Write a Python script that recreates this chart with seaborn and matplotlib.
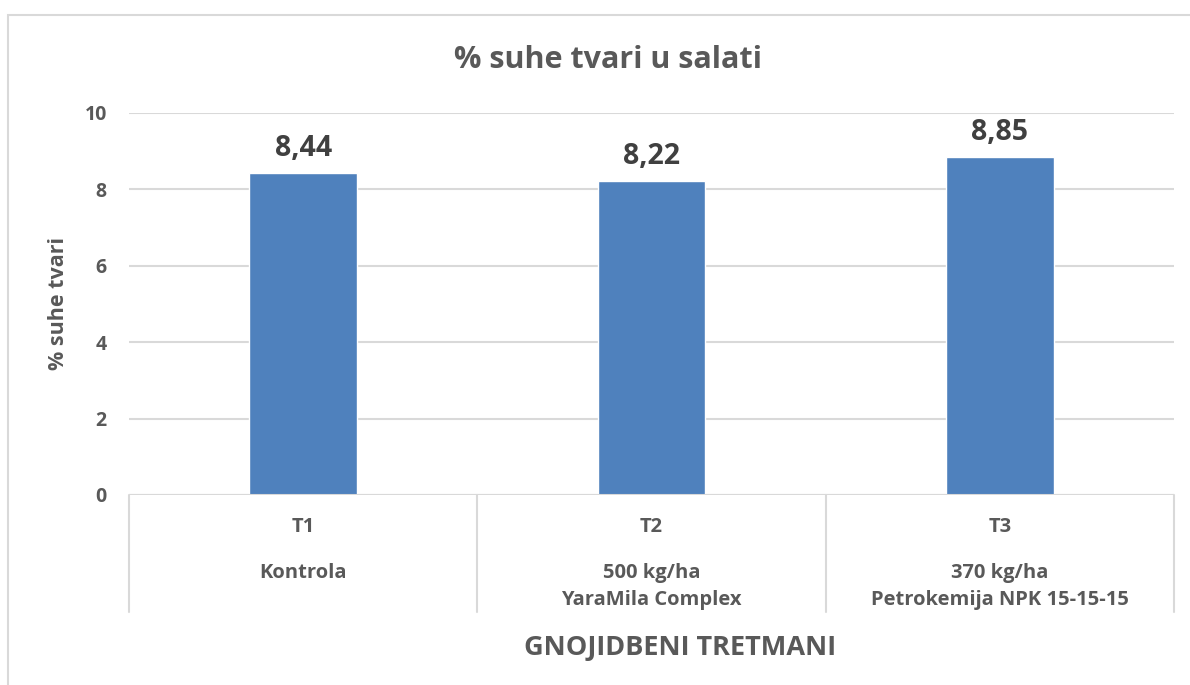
import matplotlib
matplotlib.use("Agg")
import matplotlib.pyplot as plt
import seaborn as sns
import pandas as pd
from matplotlib.patches import Rectangle
import matplotlib.transforms as mtransforms

codes = ["T1", "T2", "T3"]
descriptions = ["Kontrola", "500 kg/ha\nYaraMila Complex", "370 kg/ha\nPetrokemija NPK 15-15-15"]
values = [8.44, 8.22, 8.85]
value_labels = ["8,44", "8,22", "8,85"]
yticks = [0, 2, 4, 6, 8, 10]

sns.set_theme(style="white")
plt.rcParams['font.family'] = ['Open Sans', 'DejaVu Sans']
plt.rcParams['font.weight'] = 'bold'

W, H = 1190, 685
fig = plt.figure(figsize=(W / 100, H / 100), dpi=100)
fig.patch.set_facecolor("white")

# outer chart border
fig.patches.append(Rectangle((8 / W, -0.05), 1.2, 1 - 15 / H + 0.05, transform=fig.transFigure,
                             fill=False, edgecolor="#D9D9D9", lw=1.5, zorder=0))

ax = fig.add_axes([129 / W, 1 - 495 / H, (1174 - 129) / W, (495 - 113) / H])
df = pd.DataFrame({"code": codes, "value": values})
sns.barplot(data=df, x="code", y="value", color="#4F81BD", width=0.31, ax=ax,
            saturation=1, zorder=3)

ax.set_ylim(0, 10)
ax.set_xlim(-0.5, len(codes) - 0.5)
ax.set_yticks(yticks)
ax.set_yticklabels([str(t) for t in yticks], fontsize=14, color="#595959", fontweight="bold")
ax.tick_params(axis="y", length=0, pad=16)
ax.set_xticks([])
ax.set_xlabel("")
ax.set_ylabel("% suhe tvari", fontsize=15.5, color="#595959", fontweight="bold")
ax.yaxis.set_label_coords(-60 / (1174 - 129), 0.5)
for s in ax.spines.values():
    s.set_visible(False)
ax.grid(axis="y", color="#D9D9D9", lw=1.5, zorder=0)
ax.axhline(0, color="#D9D9D9", lw=1.5, zorder=4)

# data labels
for i, (v, lab) in enumerate(zip(values, value_labels)):
    ax.annotate(lab, (i, v), xytext=(0, 7), textcoords="offset points", ha="center",
                va="bottom", fontsize=20.5, fontweight="bold", color="#404040")

# multi-level category axis
trans = mtransforms.blended_transform_factory(ax.transData, fig.transFigure)
y_top = 1 - 495 / H
y_bot = 1 - 612 / H
for k in range(len(codes) + 1):
    xx = k - 0.5
    ax.plot([xx, xx], [y_top, y_bot], transform=trans, color="#D9D9D9", lw=1.5, clip_on=False)
for i, (c, d) in enumerate(zip(codes, descriptions)):
    fig.text(i, 1 - 527 / H, c, transform=trans, ha="center", va="center", fontsize=14.5,
             fontweight="bold", color="#595959")
    fig.text(i, 1 - 563 / H, d, transform=trans,
             ha="center", va="top", fontsize=14.5, fontweight="bold", color="#595959",
             linespacing=1.5)

fig.text(680 / W, 1 - 648 / H, "GNOJIDBENI TRETMANI", ha="center", va="center", fontsize=19.5,
         fontweight="bold", color="#595959")
fig.text(608 / W, 1 - 60 / H, "% suhe tvari u salati", ha="center", va="center", fontsize=22,
         fontweight="bold", color="#595959")

fig.savefig("out.png", dpi=100, facecolor="white")
